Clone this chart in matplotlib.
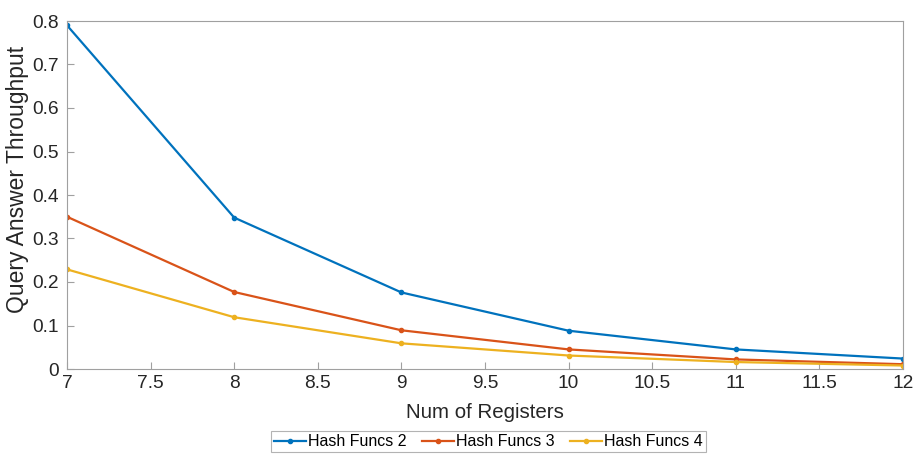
import numpy as np
import matplotlib.pyplot as plt

plt.rcParams['font.family'] = ['Liberation Sans', 'DejaVu Sans']

registers = [7, 8, 9, 10, 11, 12]
hash2 = [0.790, 0.348, 0.176, 0.088, 0.045, 0.024]
hash3 = [0.350, 0.177, 0.089, 0.045, 0.022, 0.011]
hash4 = [0.229, 0.119, 0.059, 0.031, 0.016, 0.008]
labels = ['Hash Funcs 2', 'Hash Funcs 3', 'Hash Funcs 4']
colors = ['#0072BD', '#D95319', '#EDB120']

fig = plt.figure(figsize=(9.14, 4.54), dpi=100)
ax = fig.add_axes([67/914, 1 - 369/454, (903-67)/914, (369-21)/454])

for y, lab, c in zip([hash2, hash3, hash4], labels, colors):
    ax.plot(registers, y, color=c, lw=1.6, marker='.', ms=6, label=lab)

ax.set_xlim(7, 12)
ax.set_ylim(0, 0.8)
ax.set_xticks(np.arange(7, 12.01, 0.5))
ax.set_xticklabels(['7', '7.5', '8', '8.5', '9', '9.5', '10', '10.5', '11', '11.5', '12'])
ax.set_yticks(np.arange(0, 0.81, 0.1))
ax.set_yticklabels(['0', '0.1', '0.2', '0.3', '0.4', '0.5', '0.6', '0.7', '0.8'])
ax.tick_params(direction='in', length=5, color='#a0a0a0', labelsize=13.8,
               labelcolor='#262626')
ax.tick_params(axis='y', pad=6)
ax.tick_params(axis='x', pad=4)
for s in ax.spines.values():
    s.set_color('#a0a0a0')
    s.set_linewidth(0.8)

ax.set_xlabel('Num of Registers', fontsize=14.8, color='#262626', labelpad=8)
ax.set_ylabel('Query Answer Throughput', fontsize=16.5, color='#262626')
ax.yaxis.set_label_coords(-0.046, 0.546)

leg = ax.legend(loc='upper center', bbox_to_anchor=(0.504, -0.178), ncol=3,
                fontsize=11.5, frameon=True, fancybox=False, handlelength=2.0,
                handletextpad=0.1, columnspacing=1.0, borderpad=0.2,
                borderaxespad=0)
leg.get_frame().set_edgecolor('#a0a0a0')
leg.get_frame().set_linewidth(0.8)

fig.savefig('out.png', dpi=100)
